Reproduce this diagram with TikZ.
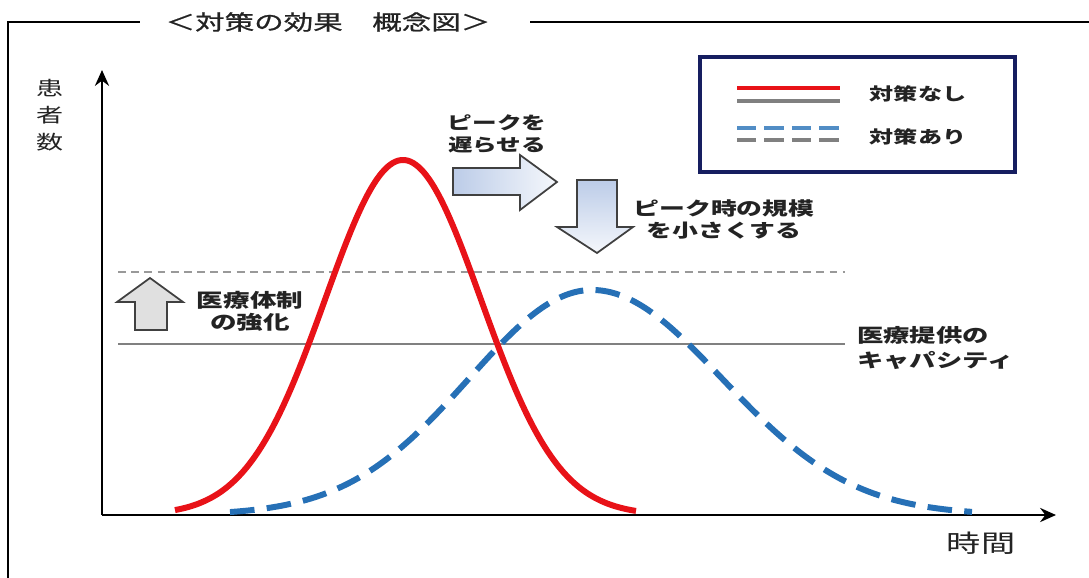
\documentclass[tikz,border=0pt]{standalone}
\usepackage{fontspec}
\setmainfont[FakeStretch=1.4]{Noto Sans CJK JP}
\newfontfamily\titlefont[FakeStretch=1.4, FakeBold=0.8]{Noto Sans CJK JP}
\usetikzlibrary{arrows.meta}
\definecolor{curvered}{RGB}{232,18,24}
\definecolor{curveblue}{RGB}{38,112,182}
\definecolor{legendnavy}{RGB}{22,30,96}
\definecolor{arrowblue}{RGB}{188,204,232}
\definecolor{txtgray}{RGB}{35,35,35}
\tikzset{
    axis/.style={line width=1.4pt, -{Stealth[length=9pt,width=8pt]}},
    frameline/.style={line width=1.1pt},
    redcurve/.style={curvered, line width=3.4pt},
    bluecurve/.style={curveblue, line width=3.4pt, dash pattern=on 14pt off 7pt},
    capline/.style={gray, line width=0.9pt},
    lbl/.style={font=\fontsize{10.7}{14.5}\selectfont\bfseries, text=txtgray, align=center, inner sep=0pt},
    blockarrow/.style={draw=black!75, line width=1pt},
}
\begin{document}
\begin{tikzpicture}[x=0.02cm, y=-0.02cm]
\useasboundingbox (0,0) rectangle (1089,578);

% frame and title
\node[font=\titlefont\fontsize{12}{14}\selectfont, text=txtgray] (title) at (328,22) {＜対策の効果　概念図＞};
\draw[frameline] (8,578) -- (8,22) -- (140,22);
\draw[frameline] (530,22) -- (1089,22);

% axes
\draw[axis] (102,515) -- (102,70);
\draw[axis] (102,515) -- (1056,515);
\node[font=\fontsize{11}{15.5}\selectfont, text=txtgray, align=center] (ylabel) at (50,115) {患\\者\\数};
\node[font=\fontsize{13.9}{16}\selectfont, text=txtgray] (xlabel) at (981,543) {時間};

% capacity lines
\draw[gray!80, line width=0.9pt, dash pattern=on 4.5pt off 3pt] (118,272) -- (845,272);
\draw[capline] (118,344) -- (845,344);

% curves
\draw[redcurve] plot[domain=175:636, samples=90, smooth] (\x, {515-355*exp(-0.5*((\x-403)/78)^2)});
\draw[bluecurve] plot[domain=230:972, samples=120, smooth] (\x, {515-225*exp(-0.5*((\x-592)/(\x<592 ? 123 : 130))^2)});

% block arrows
\draw[blockarrow, fill=black!12] (150,278) -- (183,302) -- (167,302) -- (167,330) -- (135,330) -- (135,302) -- (117,302) -- cycle;
\draw[blockarrow, left color=arrowblue, right color=white!85!arrowblue] (453,168) -- (520,168) -- (520,155) -- (557,182) -- (520,210) -- (520,195) -- (453,195) -- cycle;
\draw[blockarrow, top color=arrowblue, bottom color=white!85!arrowblue] (577,180) -- (617,180) -- (617,227) -- (633,227) -- (597,253) -- (557,227) -- (577,227) -- cycle;

% labels
\node[lbl, font=\fontsize{10}{12}\selectfont\bfseries] (delay) at (497,134) {ピークを\\遅らせる};
\node[lbl, font=\fontsize{10.5}{12.5}\selectfont\bfseries] (reduce) at (724,219) {ピーク時の規模\\を小さくする};
\node[lbl, font=\fontsize{10.8}{12.5}\selectfont\bfseries] (strengthen) at (250,311) {医療体制\\の強化};
\node[lbl, align=left, anchor=west] (capacity) at (857,348) {医療提供の\\キャパシティ};

% legend
\draw[legendnavy, line width=2pt] (700,57) rectangle (1015,172);
\draw[curvered, line width=2.4pt] (737,88) -- (840,88);
\draw[gray, line width=2.4pt] (737,101) -- (840,101);
\draw[curveblue!80, line width=2.4pt, dash pattern=on 11pt off 4.6pt] (737,128) -- (840,128);
\draw[gray, line width=2.4pt, dash pattern=on 11pt off 4.6pt] (737,140) -- (840,140);
\node[lbl, font=\fontsize{9.8}{12}\selectfont\bfseries] (without) at (918,94) {対策なし};
\node[lbl, font=\fontsize{9.8}{12}\selectfont\bfseries] (with) at (918,137) {対策あり};
\end{tikzpicture}
\end{document}
